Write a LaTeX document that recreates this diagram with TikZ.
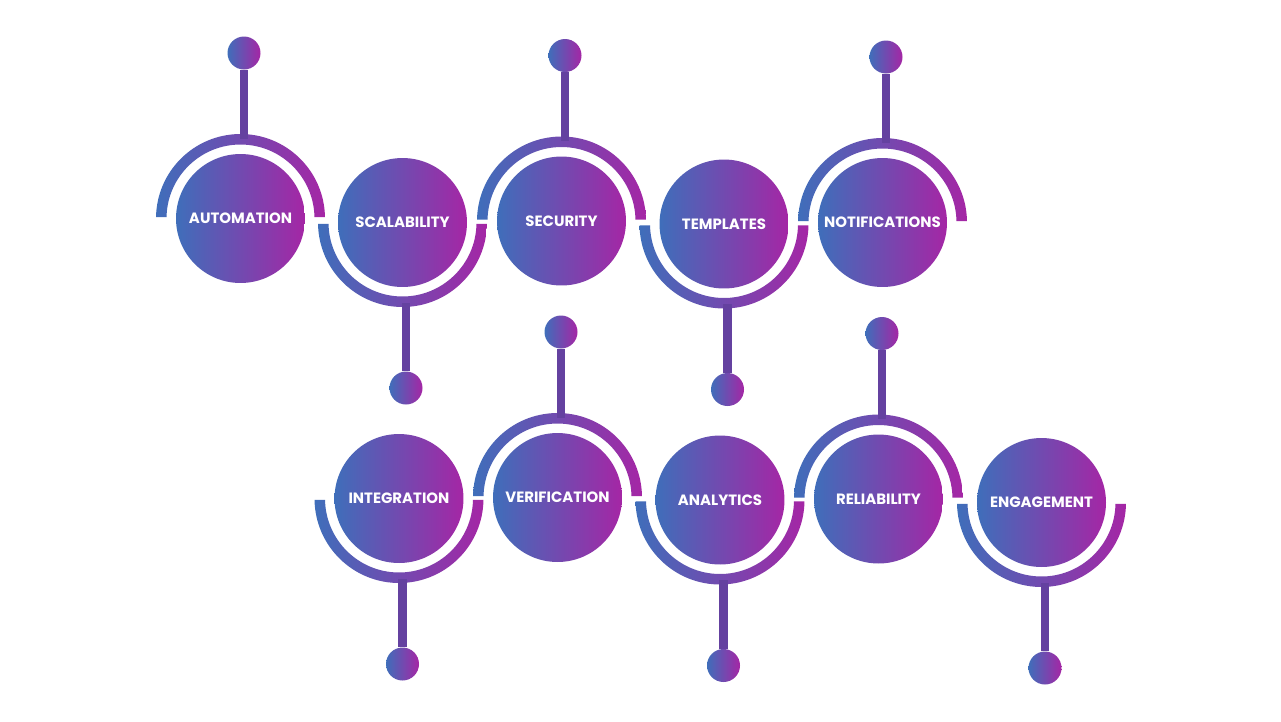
\documentclass[tikz,border=0pt]{standalone}
\usepackage{fontspec}
\setmainfont{Poppins}

\definecolor{gblue}{HTML}{3F6EBA}
\definecolor{gpurple}{HTML}{5A3F9E}
\definecolor{gmagenta}{HTML}{A526A5}
\definecolor{gstem}{HTML}{6441A0}

\tikzset{
	bubble/.style={circle, inner sep=0pt, minimum size=2.58cm, left color=gblue, middle color=gpurple, right color=gmagenta, text=white, font=\fontsize{8.5}{10}\selectfont\bfseries},
	knob/.style={circle, inner sep=0pt, minimum size=0.66cm, left color=gblue, middle color=gpurple, right color=gmagenta},
	ring/.style={left color=gblue, middle color=gpurple, right color=gmagenta},
	stem/.style={draw=gstem, line width=5pt}
}

\begin{document}
\begin{tikzpicture}[x=0.02cm, y=-0.02cm]
			\fill[white] (0,0) rectangle (1281,721);
			\useasboundingbox (0,0) rectangle (1281,721);
			
			% name/x/y/arc start/direction/label
			\foreach \n/\cx/\cy/\a/\d/\txt in {
				auto/240.5/218.5/0/-1/AUTOMATION,
				scal/402.5/222.5/180/1/SCALABILITY,
				secu/561.5/221/0/-1/SECURITY,
				temp/724/224/180/1/TEMPLATES,
				noti/882.5/222.5/0/-1/NOTIFICATIONS,
				inte/399/498.5/180/1/INTEGRATION,
				veri/557.5/497.5/0/-1/VERIFICATION,
				anal/720/500/180/1/ANALYTICS,
				reli/878.5/499/0/-1/RELIABILITY,
				enga/1041.5/502.5/180/1/ENGAGEMENT}
			{
				\node[bubble] (\n) at (\cx,\cy) {\txt};
				\shade[ring, shift={(\n.center)}] (\a+1:1.69cm) arc[start angle=\a+1, end angle=\a+179, radius=1.69cm]
					-- (\a+179:1.48cm) arc[start angle=\a+179, end angle=\a+1, radius=1.48cm] -- cycle;
				\node[knob] (\n k) at (\cx+3.5,{\cy+165.5*\d}) {};
				\coordinate (\n t) at (\cx+3.5,{\cy+80*\d});
				\draw[stem] (\n k) -- (\n t);
			}
			
		\end{tikzpicture}
\end{document}
